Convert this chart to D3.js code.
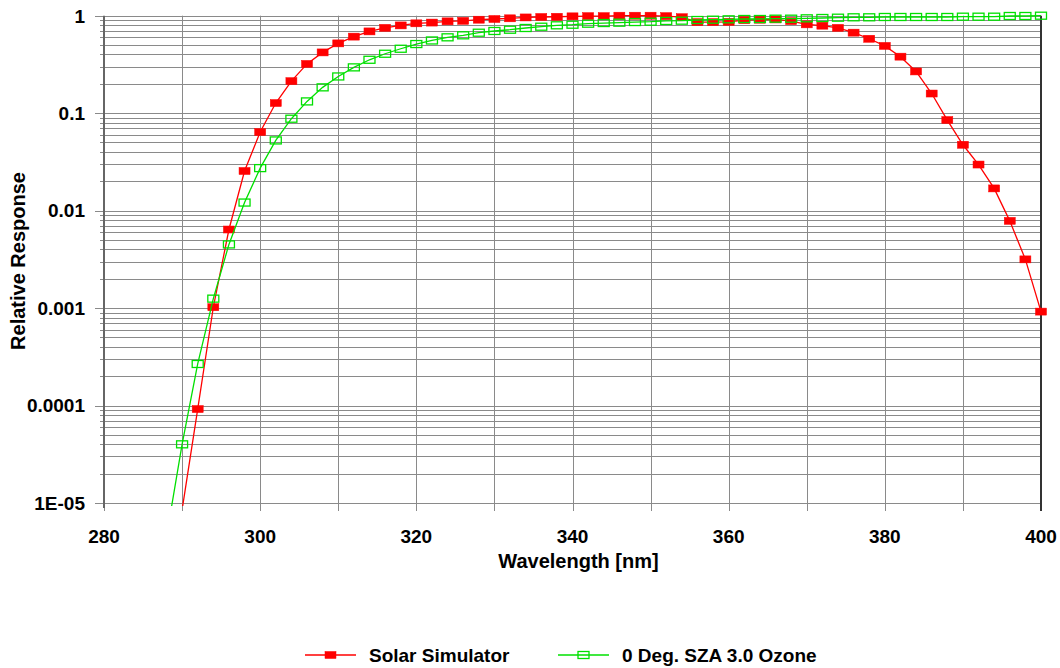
<!DOCTYPE html>
<html><head><meta charset="utf-8">
<script src="https://cdn.jsdelivr.net/npm/d3@7/dist/d3.min.js"></script>
<style>body{margin:0;background:#fff;}svg{display:block;font-family:"Liberation Sans",Arial,sans-serif;font-weight:bold;}</style>
</head><body><svg id="c" width="1060" height="668"></svg>
<script>
const wavelengths = [288,290,292,294,296,298,300,302,304,306,308,310,312,314,316,318,320,322,324,326,328,330,332,334,336,338,340,342,344,346,348,350,352,354,356,358,360,362,364,366,368,370,372,374,376,378,380,382,384,386,388,390,392,394,396,398,400];
const solarSimulator = [null,8.5e-6,9.2e-5,1.02e-3,6.4e-3,0.0255,0.064,0.127,0.213,0.32,0.42,0.52,0.61,0.69,0.75,0.795,0.835,0.85,0.875,0.885,0.91,0.925,0.94,0.96,0.97,0.975,0.985,0.99,0.99,1.0,1.0,1.0,0.99,0.965,0.86,0.86,0.865,0.9,0.91,0.915,0.88,0.815,0.79,0.75,0.67,0.58,0.49,0.38,0.268,0.159,0.085,0.0474,0.0297,0.0169,0.00785,0.00316,0.00092];
const ozone3 = [4.5e-6,4.0e-5,2.67e-4,1.25e-3,4.5e-3,0.0121,0.0273,0.0525,0.0877,0.132,0.184,0.238,0.295,0.353,0.407,0.458,0.512,0.557,0.6,0.629,0.669,0.697,0.718,0.748,0.771,0.797,0.808,0.828,0.841,0.848,0.861,0.868,0.883,0.889,0.903,0.91,0.918,0.925,0.925,0.932,0.932,0.94,0.947,0.954,0.963,0.963,0.97,0.97,0.97,0.97,0.97,0.977,0.977,0.977,0.993,0.993,1.0];
const xTicks = [280,300,320,340,360,380,400];
const yTicks = [1,0.1,0.01,0.001,0.0001,0.00001];
const yTickLabels = ["1","0.1","0.01","0.001","0.0001","1E-05"];
const seriesNames = ["Solar Simulator","0 Deg. SZA 3.0 Ozone"];

const svg = d3.select("#c");
const L=104, R=1041, T=15.7, B=503;
const x = d3.scaleLinear().domain([280,400]).range([L,R]);
const y = d3.scaleLog().domain([1e-5,1]).range([B,T]);

// gridlines
const g = svg.append("g");
const minor = [];
for (let e=-5;e<0;e++) for (let k=1;k<10;k++) minor.push(k*Math.pow(10,e));
minor.push(1);
g.selectAll("line.h").data(minor).enter().append("line")
  .attr("x1",L).attr("x2",R).attr("y1",d=>Math.round(y(d))+0.5).attr("y2",d=>Math.round(y(d))+0.5)
  .attr("stroke","#8a8a8a").attr("stroke-width",1);
const vx = d3.range(290,400,10);
g.selectAll("line.v").data(vx).enter().append("line")
  .attr("y1",T).attr("y2",B).attr("x1",d=>Math.round(x(d))+0.5).attr("x2",d=>Math.round(x(d))+0.5)
  .attr("stroke","#8a8a8a").attr("stroke-width",1);
// ticks
g.selectAll("line.xt").data(d3.range(280,401,10)).enter().append("line")
  .attr("y1",B).attr("y2",B+8).attr("x1",d=>Math.round(x(d))+0.5).attr("x2",d=>Math.round(x(d))+0.5)
  .attr("stroke","#8a8a8a");
g.selectAll("line.yt").data(minor).enter().append("line")
  .attr("x1",d=>yTicks.some(t=>Math.abs(t-d)<d*1e-6)?L-9:L-4).attr("x2",L+4)
  .attr("y1",d=>Math.round(y(d))+0.5).attr("y2",d=>Math.round(y(d))+0.5)
  .attr("stroke","#8a8a8a");
// axis borders
svg.append("line").attr("x1",L).attr("x2",L).attr("y1",T).attr("y2",B+5).attr("stroke","#666").attr("stroke-width",2);
svg.append("line").attr("x1",R).attr("x2",R).attr("y1",T).attr("y2",B+8).attr("stroke","#333").attr("stroke-width",2);

// clip
svg.append("clipPath").attr("id","clip").append("rect").attr("x",L).attr("y",0).attr("width",1060-L).attr("height",B+3);
const plot = svg.append("g").attr("clip-path","url(#clip)");

const series = [
  {vals:solarSimulator, color:"#ff0000", fill:"#ff0000", name:seriesNames[0]},
  {vals:ozone3, color:"#00e000", fill:"none", name:seriesNames[1]}
];
const line = d3.line().defined(d=>d.v!=null).x(d=>x(d.w)).y(d=>y(d.v));
series.forEach(s=>{
  const pts = wavelengths.map((w,i)=>({w:w,v:s.vals[i]})).filter(d=>d.v!=null);
  plot.append("path").datum(pts).attr("d",line).attr("fill","none").attr("stroke",s.color).attr("stroke-width",1.3);
  plot.selectAll(null).data(pts).enter().append("rect")
    .attr("x",d=>x(d.w)-5.5).attr("y",d=>y(d.v)-3.5).attr("width",11).attr("height",7)
    .attr("fill",s.fill).attr("stroke",s.color).attr("stroke-width",s.fill==="none"?1.3:0.5);
});

// tick labels
svg.selectAll("text.yl").data(yTicks).enter().append("text")
  .attr("x",85).attr("y",d=>y(d)).attr("dy","0.36em").attr("text-anchor","end")
  .attr("font-size",19).attr("fill","#000").text((d,i)=>yTickLabels[i]);
svg.selectAll("text.xl").data(xTicks).enter().append("text")
  .attr("x",d=>x(d)).attr("y",543).attr("text-anchor","middle")
  .attr("font-size",19).attr("fill","#000").text(d=>d);
// axis titles
svg.append("text").attr("x",(L+R)/2+6).attr("y",568).attr("text-anchor","middle").attr("font-size",20).text("Wavelength [nm]");
svg.append("text").attr("transform","translate(25,261) rotate(-90)").attr("text-anchor","middle").attr("font-size",20).text("Relative Response");

// legend
const leg = [{x0:305,tx:369},{x0:558,tx:622}];
series.forEach((s,i)=>{
  const lg = svg.append("g");
  lg.append("line").attr("x1",leg[i].x0).attr("x2",leg[i].x0+51).attr("y1",655).attr("y2",655).attr("stroke",s.color).attr("stroke-width",1.3);
  lg.append("rect").attr("x",leg[i].x0+20).attr("y",651.5).attr("width",11).attr("height",7).attr("fill",s.fill).attr("stroke",s.color).attr("stroke-width",s.fill==="none"?1.3:0.5);
  lg.append("text").attr("x",leg[i].tx).attr("y",655).attr("dy","0.36em").attr("font-size",19).text(s.name);
});
</script></body></html>
